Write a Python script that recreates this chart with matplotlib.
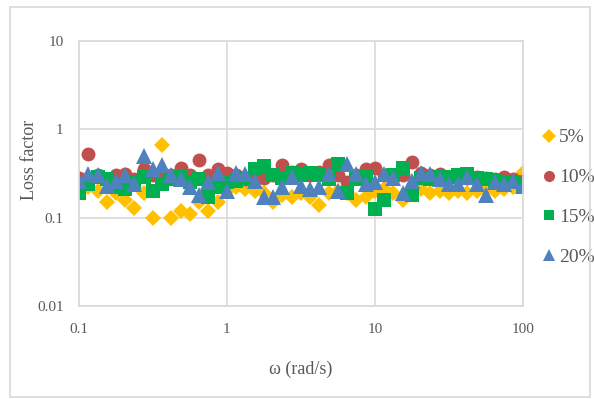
import matplotlib.pyplot as plt
from matplotlib.patches import Rectangle
from matplotlib.ticker import FixedLocator, FixedFormatter, NullLocator

# angular frequency (rad/s), 16 points per decade
omega = [0.1, 0.1155, 0.1334, 0.154, 0.1778, 0.2054, 0.2371, 0.2738, 0.3162, 0.3652, 0.4217, 0.487, 0.5623, 0.6494, 0.7499, 0.866,
         1.0, 1.155, 1.334, 1.54, 1.778, 2.054, 2.371, 2.738, 3.162, 3.652, 4.217, 4.87, 5.623, 6.494, 7.499, 8.66,
         10.0, 11.55, 13.34, 15.4, 17.78, 20.54, 23.71, 27.38, 31.62, 36.52, 42.17, 48.7, 56.23, 64.94, 74.99, 86.6,
         100.0]

loss_5 = [0.21, 0.22, 0.2, 0.15, 0.19, 0.16, 0.13, 0.19, 0.1, 0.67, 0.1, 0.12, 0.11, 0.15, 0.12, 0.15,
          0.2, 0.22, 0.21, 0.2, 0.19, 0.15, 0.18, 0.17, 0.19, 0.17, 0.14, 0.19, 0.2, 0.19, 0.16, 0.17,
          0.2, 0.21, 0.19, 0.16, 0.19, 0.21, 0.19, 0.2, 0.19, 0.2, 0.19, 0.2, 0.21, 0.2, 0.21, 0.22,
          0.32]
loss_10 = [0.28, 0.52, 0.3, 0.27, 0.3, 0.31, 0.27, 0.35, 0.3, 0.31, 0.3, 0.36, 0.3, 0.45, 0.3, 0.35,
           0.32, 0.3, 0.27, 0.29, 0.28, 0.3, 0.39, 0.33, 0.35, 0.3, 0.33, 0.39, 0.3, 0.25, 0.3, 0.35,
           0.36, 0.3, 0.28, 0.3, 0.42, 0.32, 0.3, 0.31, 0.29, 0.3, 0.28, 0.29, 0.28, 0.27, 0.29, 0.27,
           0.26]
loss_15 = [0.19, 0.24, 0.29, 0.27, 0.22, 0.21, 0.25, 0.29, 0.2, 0.24, 0.27, 0.29, 0.25, 0.27, 0.17, 0.22,
           0.25, 0.26, 0.27, 0.35, 0.38, 0.3, 0.28, 0.32, 0.3, 0.32, 0.3, 0.27, 0.4, 0.19, 0.27, 0.29,
           0.126, 0.16, 0.3, 0.36, 0.18, 0.28, 0.27, 0.29, 0.29, 0.3, 0.31, 0.28, 0.27, 0.26, 0.25, 0.25,
           0.24]
loss_20 = [0.26, 0.31, 0.3, 0.23, 0.26, 0.3, 0.24, 0.5, 0.35, 0.39, 0.3, 0.27, 0.22, 0.18, 0.25, 0.32,
           0.2, 0.32, 0.31, 0.26, 0.17, 0.17, 0.22, 0.29, 0.23, 0.21, 0.22, 0.31, 0.2, 0.4, 0.31, 0.24,
           0.25, 0.31, 0.28, 0.19, 0.26, 0.32, 0.31, 0.27, 0.24, 0.24, 0.29, 0.24, 0.18, 0.25, 0.24, 0.26,
           0.23]

x_ticks = [0.1, 1, 10, 100]
x_labels = ['0.1', '1', '10', '100']
y_ticks = [0.01, 0.1, 1, 10]
y_labels = ['0.01', '0.1', '1', '10']

plt.rcParams['font.family'] = 'Liberation Serif'
grid_col = '#D9D9D9'
text_col = '#595959'

fig = plt.figure(figsize=(5.94, 3.99), dpi=100)
ax = fig.add_axes([0.133, 0.233, 0.747, 0.665])

ax.plot(omega, loss_5, 'D', color='#FFC000', ms=8.5, mew=0, label='5%')
ax.plot(omega, loss_10, 'o', color='#C0504D', ms=10, mew=0, label='10%')
ax.plot(omega, loss_15, 's', color='#00B050', ms=9.5, mew=0, label='15%')
ax.plot(omega, loss_20, '^', color='#4F81BD', ms=11, mew=0, label='20%')

ax.set_xscale('log')
ax.set_yscale('log')
ax.set_xlim(0.1, 100)
ax.set_ylim(0.01, 10)
ax.xaxis.set_major_locator(FixedLocator(x_ticks))
ax.xaxis.set_major_formatter(FixedFormatter(x_labels))
ax.yaxis.set_major_locator(FixedLocator(y_ticks))
ax.yaxis.set_major_formatter(FixedFormatter(y_labels))
ax.xaxis.set_minor_locator(NullLocator())
ax.yaxis.set_minor_locator(NullLocator())
ax.tick_params(length=0, labelsize=11, colors=text_col)
ax.tick_params(axis='x', pad=12)
ax.tick_params(axis='y', pad=11)
ax.grid(True, color=grid_col, lw=1.2)
ax.set_axisbelow(True)
for s in ax.spines.values():
    s.set_color(grid_col)
    s.set_linewidth(1.2)

ax.set_xlabel('ω (rad/s)', fontsize=13, color=text_col, labelpad=18)
ax.set_ylabel('Loss factor', fontsize=13, color=text_col)
ax.yaxis.set_label_coords(-0.093, 0.55)

ax.legend(loc='center left', bbox_to_anchor=(0.895, 0.505), bbox_transform=fig.transFigure,
          frameon=False, fontsize=14, labelspacing=1.15, handletextpad=0.0,
          handlelength=1.0, markerscale=0.8, labelcolor=text_col, borderaxespad=0)

fig.patches.append(Rectangle((0.016, 0.005), 0.977, 0.978, transform=fig.transFigure,
                             fill=False, edgecolor=grid_col, lw=1.2))

fig.savefig('out.png', dpi=100)
